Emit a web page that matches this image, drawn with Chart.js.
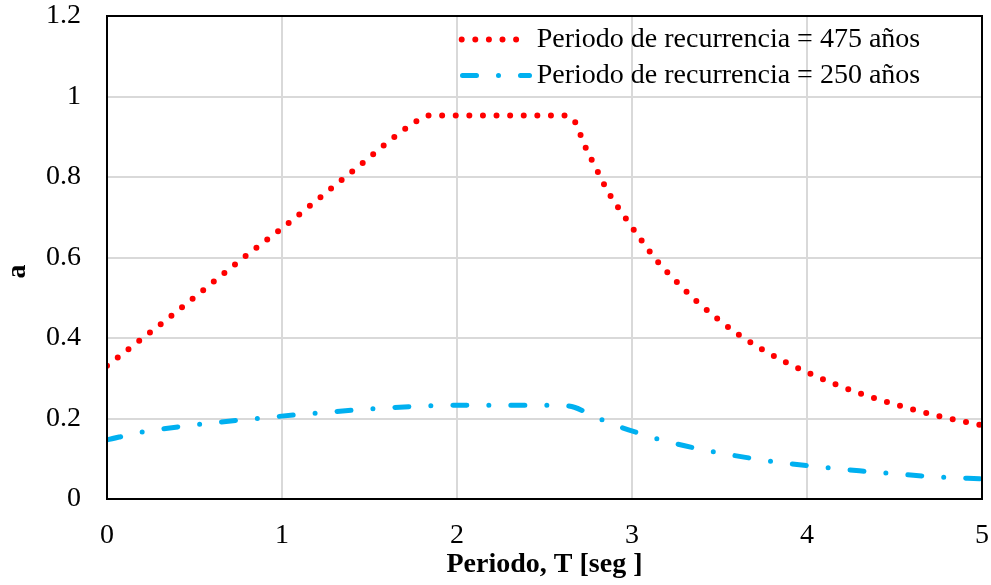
<!DOCTYPE html>
<html><head><meta charset="utf-8">
<script src="https://cdn.jsdelivr.net/npm/chart.js@4.4.1/dist/chart.umd.min.js"></script>
<style>html,body{margin:0;padding:0;background:#fff;overflow:hidden;}#wrap{width:991px;height:585px;position:relative;}</style>
</head><body><div id="wrap"><canvas id="c" width="991" height="585"></canvas></div>
<script>
// ---- data ----
const seriesNames = ['Periodo de recurrencia = 475 años', 'Periodo de recurrencia = 250 años'];
const periodo475 = [0, 0.37, 0.79, 0.98, 1.40, 1.77, 1.84, 2.20, 2.61, 2.67, 2.73, 2.80, 2.87, 2.96, 3.05, 3.14, 3.25, 3.36, 3.48, 3.60, 3.73, 3.87, 4.01, 4.15, 4.30, 4.45, 4.60, 4.75, 4.90, 5.00];
const a475       = [0.331, 0.456, 0.603, 0.666, 0.813, 0.939, 0.953, 0.953, 0.953, 0.940, 0.878, 0.817, 0.758, 0.700, 0.645, 0.593, 0.542, 0.495, 0.451, 0.411, 0.375, 0.342, 0.313, 0.287, 0.263, 0.242, 0.223, 0.206, 0.192, 0.183];
const periodo250 = [0, 0.21, 0.54, 0.88, 1.21, 1.55, 1.88, 2.20, 2.56, 2.67, 2.76, 2.87, 2.98, 3.19, 3.41, 3.64, 3.86, 4.07, 4.30, 4.52, 4.74, 5.00];
const a250       = [0.147, 0.167, 0.186, 0.201, 0.214, 0.225, 0.232, 0.233, 0.233, 0.228, 0.210, 0.189, 0.172, 0.144, 0.122, 0.104, 0.090, 0.080, 0.070, 0.062, 0.055, 0.050];
const xTickLabels = ['0', '1', '2', '3', '4', '5'];
const yTickLabels = ['0', '0.2', '0.4', '0.6', '0.8', '1', '1.2'];
const xTitle = 'Periodo, T [seg ]';
const yTitle = 'a';

// ---- styles ----
const RED = '#ff0000';
const BLUE = '#00b0f0';
const GRID = '#d9d9d9';
const SERIF = '"Liberation Serif", "Times New Roman", serif';
const redDash = [0, 13.6];
const blueDash = [14, 22, 0, 22];

const toPts = (xs, ys) => xs.map((x, i) => ({x: x, y: ys[i]}));

const decor = {
  id: 'decor',
  afterDraw(chart) {
    const ctx = chart.ctx, a = chart.chartArea;
    ctx.save();
    ctx.strokeStyle = '#000';
    ctx.lineWidth = 2;
    ctx.setLineDash([]);
    ctx.strokeRect(a.left, a.top, a.right - a.left, a.bottom - a.top);
    // legend
    ctx.lineCap = 'round';
    ctx.strokeStyle = RED; ctx.lineWidth = 6; ctx.setLineDash(redDash);
    ctx.beginPath(); ctx.moveTo(461.7, 39.5); ctx.lineTo(517, 39.5); ctx.stroke();
    ctx.strokeStyle = BLUE; ctx.lineWidth = 5; ctx.setLineDash(blueDash);
    ctx.beginPath(); ctx.moveTo(462.5, 75.5); ctx.lineTo(529.5, 75.5); ctx.stroke();
    ctx.setLineDash([]);
    ctx.fillStyle = '#000';
    ctx.font = '28px ' + SERIF;
    ctx.textAlign = 'left'; ctx.textBaseline = 'alphabetic';
    ctx.fillText(seriesNames[0], 536.7, 47);
    ctx.fillText(seriesNames[1], 536.7, 83);
    ctx.restore();
  }
};

new Chart(document.getElementById('c'), {
  type: 'line',
  data: {
    datasets: [
      {label: seriesNames[0], data: toPts(periodo475, a475), borderColor: RED, backgroundColor: RED,
       borderWidth: 6, borderDash: redDash, borderCapStyle: 'round', borderJoinStyle: 'round',
       pointRadius: 0, cubicInterpolationMode: 'monotone', fill: false},
      {label: seriesNames[1], data: toPts(periodo250, a250), borderColor: BLUE, backgroundColor: BLUE,
       borderWidth: 5, borderDash: blueDash, borderCapStyle: 'round', borderJoinStyle: 'round',
       pointRadius: 0, cubicInterpolationMode: 'monotone', fill: false}
    ]
  },
  options: {
    responsive: false,
    devicePixelRatio: 1,
    animation: false,
    layout: {padding: {top: 16, right: 9, left: 0, bottom: 0}},
    plugins: {legend: {display: false}, tooltip: {enabled: false}},
    scales: {
      x: {
        type: 'linear', min: 0, max: 5,
        afterFit: s => { s.height = 86; s.paddingLeft = 0; s.paddingRight = 0; },
        grid: {color: GRID, lineWidth: 2, drawTicks: false},
        border: {display: false},
        ticks: {stepSize: 1, padding: 20, color: '#000', font: {family: SERIF, size: 28},
                maxRotation: 0, callback: (v, i) => xTickLabels[i]},
        title: {display: true, text: xTitle, color: '#000', font: {family: SERIF, size: 28, weight: 'bold'},
                padding: {top: 4, bottom: 3}}
      },
      y: {
        type: 'linear', min: 0, max: 1.2,
        afterFit: s => { s.width = 107; s.paddingTop = 0; s.paddingBottom = 0; },
        grid: {color: GRID, lineWidth: 2, drawTicks: false},
        border: {display: false},
        ticks: {stepSize: 0.2, padding: 26, color: '#000', font: {family: SERIF, size: 28},
                callback: (v, i) => yTickLabels[i]},
        title: {display: true, text: yTitle + '\u00a0\u00a0\u00a0\u00a0', color: '#000',
                font: {family: SERIF, size: 28, weight: 'bold', lineHeight: 1},
                padding: {top: 4, bottom: 0}}
      }
    }
  },
  plugins: [decor]
});
</script>
</body></html>
